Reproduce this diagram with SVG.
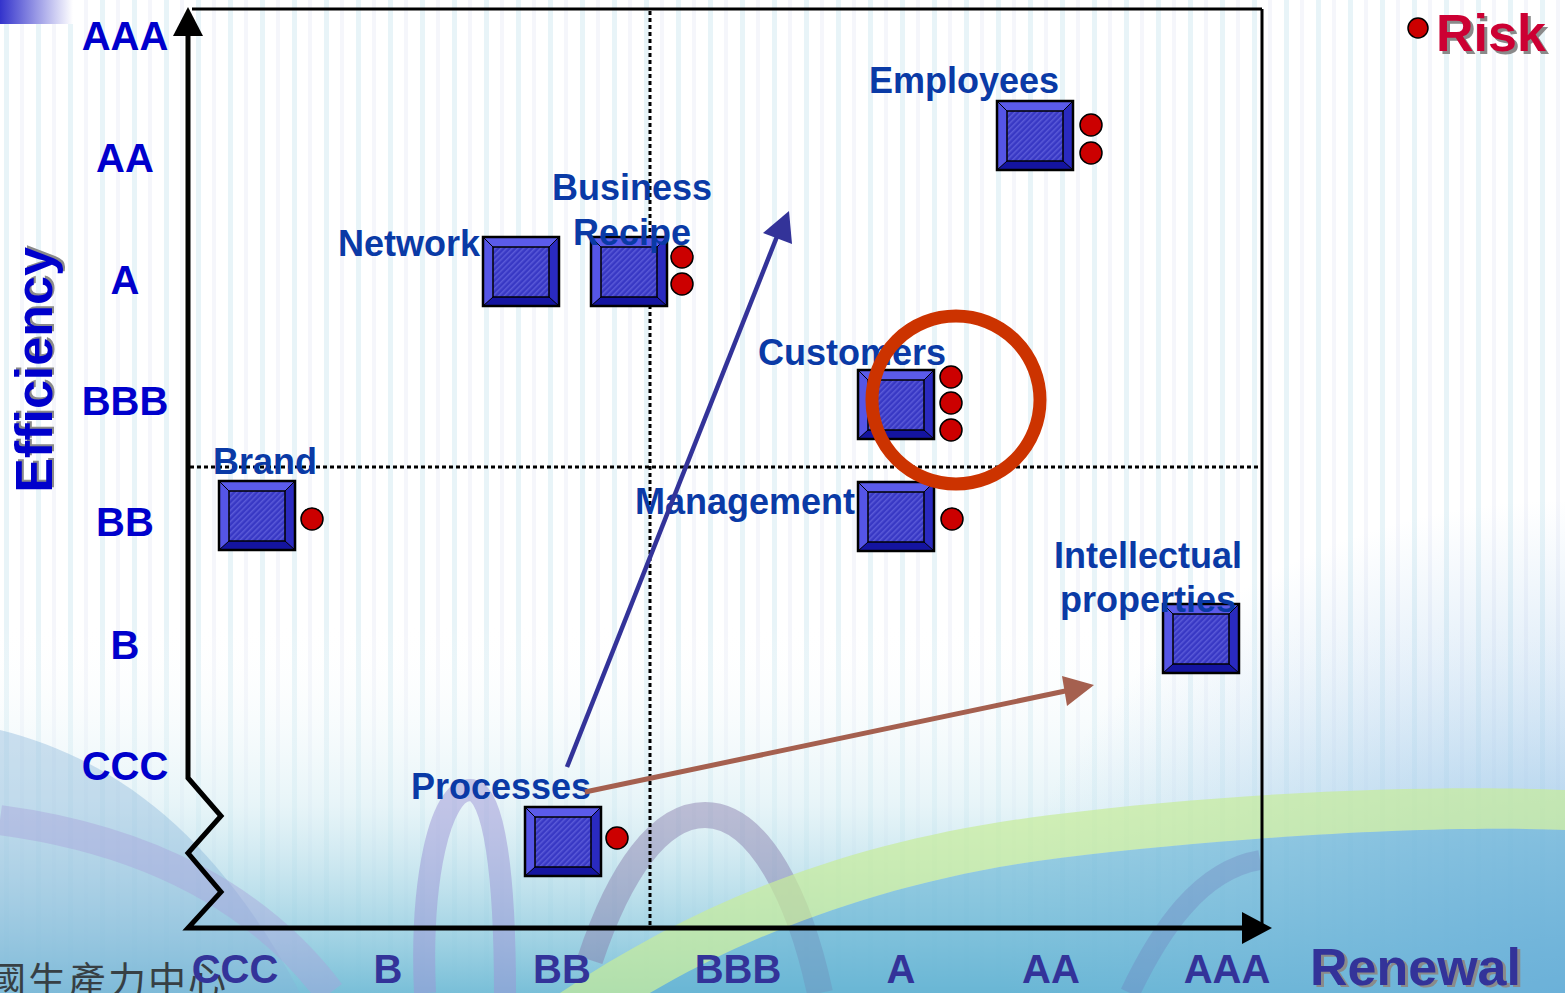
<svg xmlns="http://www.w3.org/2000/svg" width="1565" height="993" viewBox="0 0 1565 993">
<defs>
<style>
.lbl{font-family:"Liberation Sans",Arial,sans-serif;font-weight:bold;font-size:36px;fill:#0a3aa6}
.ylab{font-family:"Liberation Sans",Arial,sans-serif;font-weight:bold;font-size:40px;fill:#0000cc;text-anchor:middle}
.xlab{font-family:"Liberation Sans",Arial,sans-serif;font-weight:bold;font-size:40px;fill:#333399;text-anchor:middle}
.big{font-family:"Liberation Sans",Arial,sans-serif;font-weight:bold;font-size:52px}
.shadow{fill:#8a8a8a}
.dot{fill:#cc0000;stroke:#000;stroke-width:1.5}
.axis{stroke:#000;stroke-width:5;fill:none;stroke-linejoin:miter}
.frame{stroke:#000;stroke-width:3;fill:none}
.dotted{stroke:#000;stroke-width:3;stroke-dasharray:4 3;fill:none}
</style>
<pattern id="stripes" width="32" height="10" patternUnits="userSpaceOnUse">
<rect width="32" height="10" fill="#ffffff"/>
<rect x="4" width="5" height="10" fill="#e8f4f8"/>
<rect x="20" width="4" height="10" fill="#f5f6fb"/>
</pattern>
<pattern id="hatch" width="4" height="4" patternUnits="userSpaceOnUse" patternTransform="rotate(45)">
<rect width="4" height="4" fill="#3838c4"/>
<rect width="1.5" height="4" fill="#5a5ad8"/>
</pattern>
<linearGradient id="corner" x1="0" y1="0" x2="1" y2="0">
<stop offset="0" stop-color="#3333cc"/>
<stop offset="1" stop-color="#ffffff"/>
</linearGradient>
<linearGradient id="bottom" x1="0" y1="0" x2="0" y2="1">
<stop offset="0" stop-color="#ffffff" stop-opacity="0"/>
<stop offset="0.5" stop-color="#d6edf3" stop-opacity="0.6"/>
<stop offset="1" stop-color="#79bfd8" stop-opacity="1"/>
</linearGradient>
<radialGradient id="rightblue" cx="1" cy="1" r="1">
<stop offset="0" stop-color="#7fb2e2" stop-opacity="0.8"/>
<stop offset="1" stop-color="#9cc6ea" stop-opacity="0"/>
</radialGradient>
<g id="box">
<rect x="0" y="0" width="76" height="69" fill="#4a4ade" stroke="#000" stroke-width="2"/>
<polygon points="0,0 76,0 66,10 10,10" fill="#5b5bea"/>
<polygon points="0,0 10,10 10,60 0,69" fill="#5555e6"/>
<polygon points="76,0 76,69 66,60 66,10" fill="#2a2ac0"/>
<polygon points="0,69 76,69 66,60 10,60" fill="#1414a0"/>
<rect x="10" y="10" width="56" height="50" fill="url(#hatch)" stroke="#000" stroke-width="1.5"/>
<line x1="0" y1="0" x2="10" y2="10" stroke="#000" stroke-width="1"/>
<line x1="76" y1="0" x2="66" y2="10" stroke="#000" stroke-width="1"/>
<line x1="0" y1="69" x2="10" y2="60" stroke="#000" stroke-width="1"/>
<line x1="76" y1="69" x2="66" y2="60" stroke="#000" stroke-width="1"/>
<rect x="0" y="0" width="76" height="69" fill="none" stroke="#000" stroke-width="2.5"/>
</g>
</defs>

<g id="background">
<rect width="1565" height="993" fill="url(#stripes)"/>
<rect x="0" y="620" width="1565" height="373" fill="url(#bottom)"/>
<rect x="1000" y="500" width="565" height="493" fill="url(#rightblue)"/>
<path d="M0,730 C120,760 220,840 300,993 L0,993 Z" fill="#86b4da" opacity="0.4"/>
<path d="M0,820 C150,840 260,900 330,993" stroke="#a9a4dc" stroke-width="30" fill="none" opacity="0.45"/>
<path d="M425,993 C420,880 440,790 470,790 C495,790 505,880 505,993" stroke="#9c94d6" stroke-width="22" fill="none" opacity="0.5"/>
<path d="M590,960 C620,870 660,815 705,815 C760,815 800,900 820,993" stroke="#8478a8" stroke-width="26" fill="none" opacity="0.45"/>
<path d="M560,993 C700,900 850,840 1050,815 C1250,790 1450,785 1565,790 L1565,830 C1450,825 1250,835 1060,858 C880,880 740,940 650,993 Z" fill="#c8ec9a" opacity="0.7"/>
<path d="M650,993 C740,940 880,880 1060,858 C1250,835 1450,825 1565,830 L1565,993 Z" fill="#5aaed2" opacity="0.5"/>
<path d="M1130,993 C1160,930 1200,870 1260,860" stroke="#6d78b8" stroke-width="20" fill="none" opacity="0.3"/>
<rect x="0" y="0" width="73" height="24" fill="url(#corner)"/>
</g>

<g id="axes">
<line class="frame" x1="192" y1="9" x2="1262" y2="9"/>
<line class="frame" x1="1262" y1="9" x2="1262" y2="930"/>
<line class="dotted" x1="650" y1="11" x2="650" y2="926"/>
<line class="dotted" x1="190" y1="467" x2="1258" y2="467"/>
<polyline class="axis" points="188,32 188,778 221,816 188,853 221,892 188,928 1248,928"/>
<polygon points="188,7 173,36 203,36" fill="#000"/>
<polygon points="1272,928 1242,912 1242,944" fill="#000"/>
</g>

<g id="y-labels">
<text class="ylab" x="125" y="50">AAA</text>
<text class="ylab" x="125" y="172">AA</text>
<text class="ylab" x="125" y="294">A</text>
<text class="ylab" x="125" y="415">BBB</text>
<text class="ylab" x="125" y="536">BB</text>
<text class="ylab" x="125" y="659">B</text>
<text class="ylab" x="125" y="780">CCC</text>
</g>

<g id="cjk-footer">
<text x="-12" y="994" font-family="'Noto Sans CJK TC','Noto Sans CJK SC',sans-serif" font-size="38" letter-spacing="2" fill="#2a2a2a" opacity="0.85">國生產力中心</text>
</g>

<g id="x-labels">
<text class="xlab" x="235" y="983">CCC</text>
<text class="xlab" x="388" y="983">B</text>
<text class="xlab" x="562" y="983">BB</text>
<text class="xlab" x="738" y="983">BBB</text>
<text class="xlab" x="901" y="983">A</text>
<text class="xlab" x="1051" y="983">AA</text>
<text class="xlab" x="1227" y="983">AAA</text>
</g>

<g id="axis-titles">
<g transform="translate(52,370) rotate(-90)">
<text class="big shadow" x="2" y="2" text-anchor="middle">Efficiency</text>
<text class="big" x="0" y="0" text-anchor="middle" fill="#0000cc">Efficiency</text>
</g>
<text class="big shadow" x="1313" y="987">Renewal</text>
<text class="big" x="1310" y="985" fill="#333399">Renewal</text>
</g>

<g id="legend-risk">
<circle class="dot" cx="1418" cy="28" r="10"/>
<text class="big shadow" x="1439" y="54">Risk</text>
<text class="big" x="1436" y="51" fill="#cc0033">Risk</text>
</g>

<g id="node-employees">
<use href="#box" x="997" y="101"/>
<circle class="dot" cx="1091" cy="125" r="11"/>
<circle class="dot" cx="1091" cy="153" r="11"/>
<text class="lbl" x="964" y="93" text-anchor="middle">Employees</text>
</g>

<g id="node-network">
<use href="#box" x="483" y="237"/>
<text class="lbl" x="409" y="256" text-anchor="middle">Network</text>
</g>

<g id="node-business-recipe">
<use href="#box" x="591" y="237"/>
<circle class="dot" cx="682" cy="257" r="11"/>
<circle class="dot" cx="682" cy="284" r="11"/>
<text class="lbl" x="632" y="200" text-anchor="middle">Business</text>
<text class="lbl" x="632" y="245" text-anchor="middle">Recipe</text>
</g>

<g id="node-customers">
<use href="#box" x="858" y="370"/>
<circle class="dot" cx="951" cy="377" r="11"/>
<circle class="dot" cx="951" cy="403" r="11"/>
<circle class="dot" cx="951" cy="430" r="11"/>
<text class="lbl" x="852" y="365" text-anchor="middle">Customers</text>
</g>

<g id="node-brand">
<use href="#box" x="219" y="481"/>
<circle class="dot" cx="312" cy="519" r="11"/>
<text class="lbl" x="265" y="474" text-anchor="middle">Brand</text>
</g>

<g id="node-management">
<use href="#box" x="858" y="482"/>
<circle class="dot" cx="952" cy="519" r="11"/>
<text class="lbl" x="745" y="514" text-anchor="middle">Management</text>
</g>

<g id="node-intellectual-properties">
<use href="#box" x="1163" y="604"/>
<text class="lbl" x="1148" y="568" text-anchor="middle">Intellectual</text>
<text class="lbl" x="1148" y="612" text-anchor="middle">properties</text>
</g>

<g id="node-processes">
<use href="#box" x="525" y="807"/>
<circle class="dot" cx="617" cy="838" r="11"/>
<text class="lbl" x="501" y="799" text-anchor="middle">Processes</text>
</g>

<g id="connectors">
<line x1="567" y1="767" x2="778" y2="234" stroke="#333399" stroke-width="4.5"/>
<polygon points="789,211 763,233 792,244" fill="#333399"/>
<line x1="585" y1="792" x2="1070" y2="690" stroke="#a5604f" stroke-width="5"/>
<polygon points="1094,685 1062,676 1067,706" fill="#a5604f"/>
</g>

<g id="highlight">
<circle cx="956" cy="400" r="84" fill="none" stroke="#cc3300" stroke-width="13"/>
</g>
</svg>
